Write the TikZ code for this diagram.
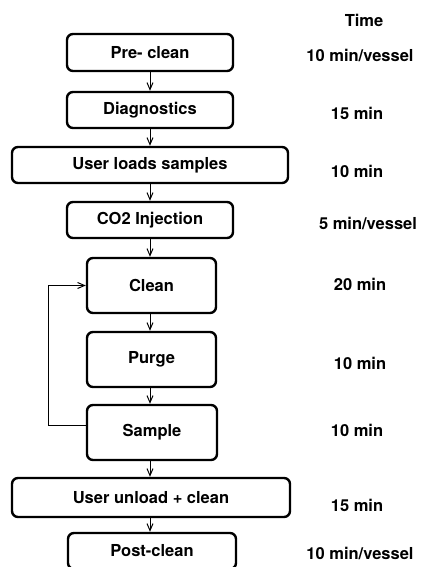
\documentclass[tikz,border=0pt]{standalone}
\usepackage{fontspec}
\setmainfont{TeX Gyre Heros}
\usetikzlibrary{arrows.meta}
\begin{document}
\begin{tikzpicture}[x=1pt,y=-1pt,
  stepbox/.style={draw, line width=2.4pt, rounded corners=6pt, inner sep=0pt,
    font=\fontsize{16.5}{19}\selectfont\bfseries},
  timelabel/.style={inner sep=0pt, font=\fontsize{16.5}{19}\selectfont\bfseries},
  flow/.style={line width=1pt, -{Straight Barb[length=7pt,width=6pt,line width=1pt]}}]
\useasboundingbox (0,0) rectangle (424,567);
\node[stepbox, minimum width=166pt, minimum height=37pt] (pre) at (150,52.5) {Pre- clean};
\node[stepbox, minimum width=166pt, minimum height=36pt] (diag) at (150,110) {Diagnostics};
\node[stepbox, minimum width=276pt, minimum height=36pt] (load) at (150,165) {User loads samples};
\node[stepbox, minimum width=166pt, minimum height=36pt] (co2) at (150,220) {CO2 Injection};
\node[stepbox, minimum width=129pt, minimum height=55pt] (clean) at (151.5,285.5) {Clean};
\node[stepbox, minimum width=129pt, minimum height=55pt] (purge) at (151.5,359.5) {Purge};
\node[stepbox, minimum width=130pt, minimum height=55pt] (sample) at (152,432.5) {Sample};
\node[stepbox, minimum width=278pt, minimum height=39pt] (unload) at (151,497.5) {User unload + clean};
\node[stepbox, minimum width=168pt, minimum height=36pt] (post) at (152,551) {Post-clean};

\node[timelabel] (t0) at (364,20) {Time};
\node[timelabel] (t1) at (360,55) {10 min/vessel};
\node[timelabel] (t2) at (357,113) {15 min};
\node[timelabel] (t3) at (357,171) {10 min};
\node[timelabel] (t4) at (368,223) {5 min/vessel};
\node[timelabel] (t5) at (360,284) {20 min};
\node[timelabel] (t6) at (360,363) {10 min};
\node[timelabel] (t7) at (357,430) {10 min};
\node[timelabel] (t8) at (357,505) {15 min};
\node[timelabel] (t9) at (360,553) {10 min/vessel};

\draw[flow] (pre.south) -- (pre.south |- diag.north);
\draw[flow] (diag.south) -- (diag.south |- load.north);
\draw[flow] (load.south) -- (load.south |- co2.north);
\draw[flow] (co2.south) -- (co2.south |- clean.north);
\draw[flow] ([xshift=-1.5pt]clean.south) -- ([xshift=-1.5pt]clean.south |- purge.north);
\draw[flow] ([xshift=-1.5pt]purge.south) -- ([xshift=-1.5pt]purge.south |- sample.north);
\draw[flow] ([xshift=-2pt]sample.south) -- ([xshift=-2pt]sample.south |- unload.north);
\draw[flow] ([xshift=-1pt]unload.south) -- ([xshift=-1pt]unload.south |- post.north);
\coordinate (loopL) at (48,300);
\coordinate (s0) at ([yshift=7.5pt]sample.west);
\draw[flow] (s0) -- (s0 -| loopL) |- (clean.west);
\end{tikzpicture}
\end{document}
